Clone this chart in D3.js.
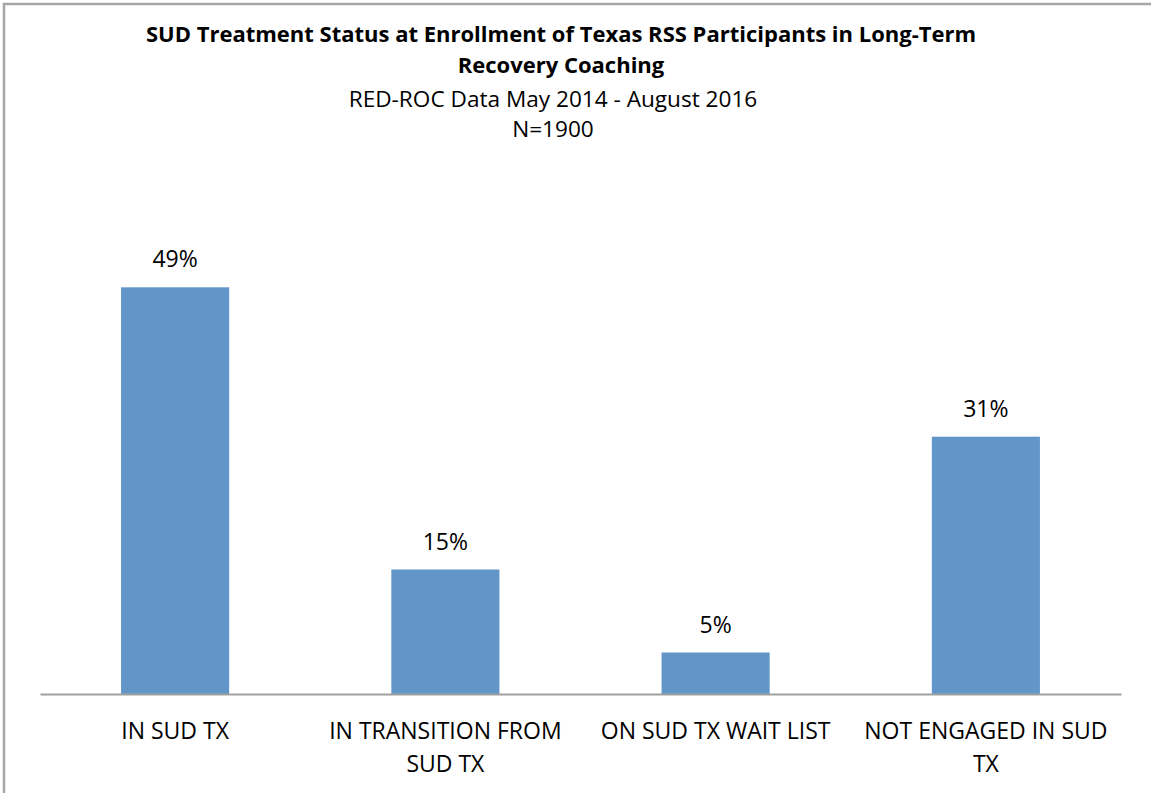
<!DOCTYPE html>
<html>
<head>
<meta charset="utf-8">
<script src="https://cdn.jsdelivr.net/npm/d3@7"></script>
<style>
  body { margin: 0; background: #fff; }
  text { font-family: "Open Sans", "Liberation Sans", sans-serif; fill: #000; }
</style>
</head>
<body>
<div id="chart"></div>
<script>
// chart data
const categories = [["IN SUD TX"], ["IN TRANSITION FROM", "SUD TX"], ["ON SUD TX WAIT LIST"], ["NOT ENGAGED IN SUD", "TX"]]
const percents = [49, 15, 5, 31]
const titleLines = ["SUD Treatment Status at Enrollment of Texas RSS Participants in Long-Term", "Recovery Coaching"]
const subtitleLines = ["RED-ROC Data May 2014 - August 2016", "N=1900"]

const width = 1151, height = 793
const svg = d3.select("#chart").append("svg")
  .attr("width", width).attr("height", height)

// outer chart border (only top/left visible in the frame)
svg.append("rect").attr("x", 4).attr("y", 4)
  .attr("width", width + 10).attr("height", height + 10)
  .attr("fill", "none").attr("stroke", "#a6a6a6").attr("stroke-width", 2.5)

const keys = categories.map(d => d.join(" "))
const x = d3.scaleBand().domain(keys).range([40, 1121])
  .paddingInner(0.6).paddingOuter(0.3)
const y = d3.scaleLinear().domain([0, 60]).range([694, 196])

// title
svg.append("g").selectAll("text").data(titleLines).enter().append("text")
  .attr("x", 561).attr("y", (d, i) => 42 + i * 30.5)
  .attr("text-anchor", "middle").attr("font-size", 22).attr("font-weight", "bold")
  .text(d => d)
svg.append("g").selectAll("text").data(subtitleLines).enter().append("text")
  .attr("x", 553).attr("y", (d, i) => 107 + i * 30)
  .attr("text-anchor", "middle").attr("font-size", 22.6)
  .text(d => d)

// bars
svg.append("g").selectAll("rect").data(percents).enter().append("rect")
  .attr("x", (d, i) => x(keys[i])).attr("width", x.bandwidth())
  .attr("y", d => y(d)).attr("height", d => y(0) - y(d))
  .attr("fill", "#6296c9")

// value labels
svg.append("g").selectAll("text").data(percents).enter().append("text")
  .attr("x", (d, i) => x(keys[i]) + x.bandwidth() / 2).attr("y", d => y(d) - 20)
  .attr("text-anchor", "middle").attr("font-size", 23)
  .text(d => d + "%")

// x axis
const xAxis = svg.append("g").attr("transform", "translate(0,694)")
  .call(d3.axisBottom(x).tickSize(0).tickFormat(""))
xAxis.select(".domain").attr("stroke", "#a0a0a0").attr("stroke-width", 2)

// category labels, wrapped
const cat = svg.append("g").selectAll("text").data(categories).enter().append("text")
  .attr("x", (d, i) => x(keys[i]) + x.bandwidth() / 2).attr("y", 739)
  .attr("text-anchor", "middle").attr("font-size", 23)
cat.selectAll("tspan").data(d => d).enter().append("tspan")
  .attr("x", function() { return d3.select(this.parentNode).attr("x") })
  .attr("dy", (d, i) => i === 0 ? 0 : 33)
  .text(d => d)
</script>
</body>
</html>
